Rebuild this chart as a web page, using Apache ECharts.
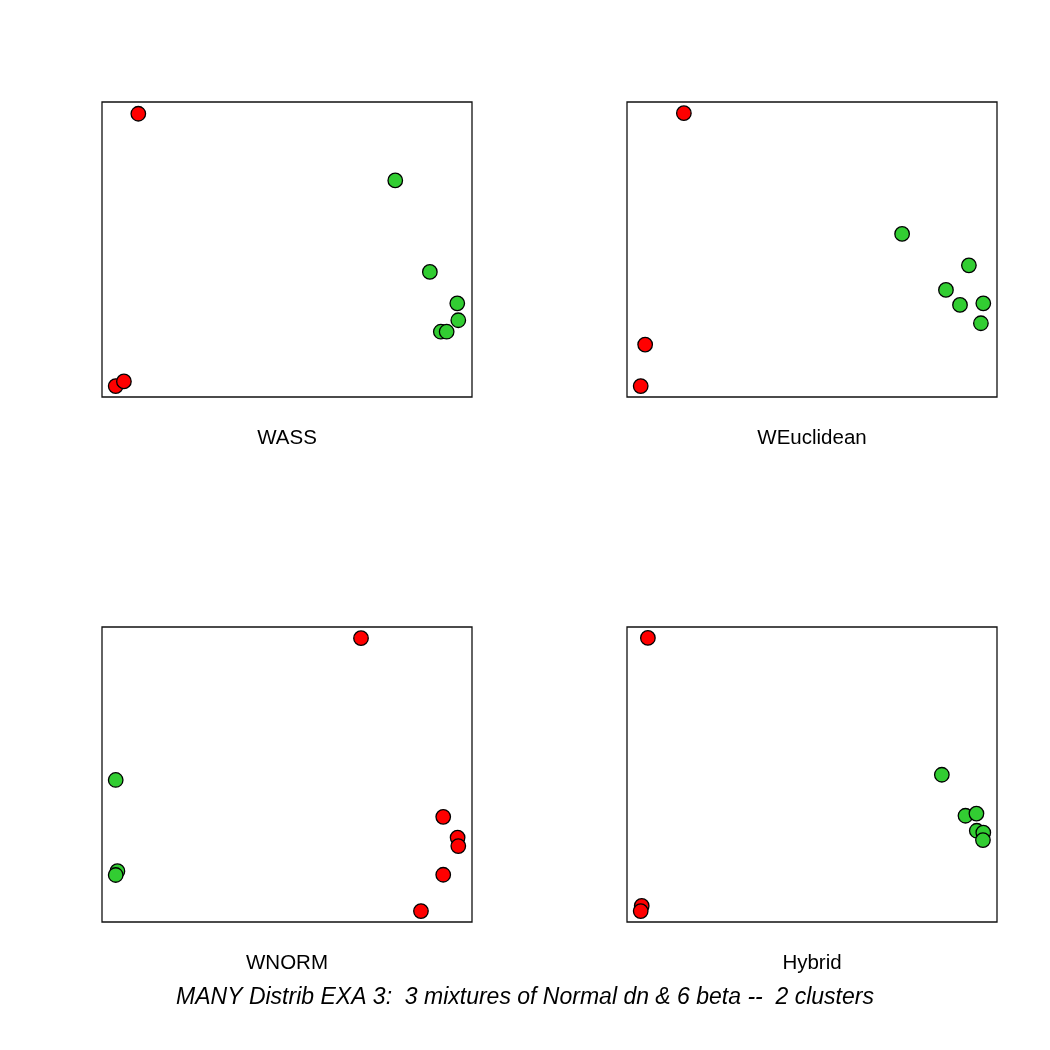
<!DOCTYPE html>
<html>
<head>
<meta charset="UTF-8">
<title>MANY Distrib EXA 3</title>
<script src="https://cdn.jsdelivr.net/npm/echarts@6/dist/echarts.min.js"></script>
<style>
  html, body { margin: 0; padding: 0; background: #fff; }
  #main { width: 1050px; height: 1050px; }
</style>
</head>
<body>
<div id="main"></div>
<script>
// panel names (shown under each box)
const panelNames = ['WASS', 'WEuclidean', 'WNORM', 'Hybrid'];
const mainTitle = 'MANY Distrib EXA 3:  3 mixtures of Normal dn & 6 beta --  2 clusters';

// points per panel, [x, y] (unitless, 0..100)
const wassRed = [[6.6, 99.7], [0, 0], [2.4, 1.7]];
const wassGreen = [[81.6, 75.3], [91.7, 41.8], [99.7, 30.3], [100, 24.1], [94.9, 19.9], [96.6, 19.9]];

const weucRed = [[12.6, 99.9], [1.3, 15.2], [0, 0]];
const weucGreen = [[76.3, 55.7], [95.8, 44.2], [89.1, 35.2], [93.2, 29.7], [100, 30.3], [99.3, 23.0]];

const wnormRed = [[71.6, 99.9], [95.6, 34.5], [99.8, 26.9], [100, 23.8], [95.6, 13.3], [89.1, 0]];
const wnormGreen = [[0, 48.0], [0.5, 14.6], [0, 13.2]];

const hybridRed = [[2.1, 100], [0.3, 1.9], [0, 0]];
const hybridGreen = [[87.9, 49.9], [94.8, 34.9], [98.0, 35.7], [98.1, 29.4], [100, 28.7], [99.9, 26.0]];

const panelRed = [wassRed, weucRed, wnormRed, hybridRed];
const panelGreen = [wassGreen, weucGreen, wnormGreen, hybridGreen];

const RED_COL = '#ff0000';
const GREEN_COL = '#32cd32';
const FONT = 'Liberation Sans, Arial, sans-serif';

// grid boxes
const boxes = [
  { left: 102, top: 102 },
  { left: 627, top: 102 },
  { left: 102, top: 627 },
  { left: 627, top: 627 }
];
const boxW = 370, boxH = 295;

const grids = [], xAxes = [], yAxes = [], series = [];
boxes.forEach((b, i) => {
  grids.push({
    left: b.left, top: b.top, width: boxW, height: boxH,
    show: true, borderColor: '#111', borderWidth: 1.3, backgroundColor: 'transparent'
  });
  xAxes.push({
    gridIndex: i, type: 'value', min: -4, max: 104,
    name: panelNames[i], nameLocation: 'middle', nameGap: 31,
    nameTextStyle: { fontFamily: FONT, fontSize: 20.5, color: '#000' },
    axisLine: { show: false }, axisTick: { show: false }, axisLabel: { show: false }, splitLine: { show: false }
  });
  yAxes.push({
    gridIndex: i, type: 'value', min: -4, max: 104,
    axisLine: { show: false }, axisTick: { show: false }, axisLabel: { show: false }, splitLine: { show: false }
  });
  [[panelRed[i], RED_COL], [panelGreen[i], GREEN_COL]].forEach(([pts, col]) => {
    series.push({
      type: 'scatter', xAxisIndex: i, yAxisIndex: i,
      data: pts, symbol: 'circle', symbolSize: 14.5,
      itemStyle: { color: col, borderColor: '#000', borderWidth: 1.3, opacity: 1 },
      emphasis: { disabled: true }
    });
  });
});

const chart = echarts.init(document.getElementById('main'), null, { renderer: 'canvas' });
chart.setOption({
  animation: false,
  backgroundColor: '#fff',
  title: {
    text: mainTitle, left: 'center', top: 981,
    textStyle: { fontFamily: FONT, fontSize: 23, fontStyle: 'italic', fontWeight: 'normal', color: '#000' }
  },
  grid: grids,
  xAxis: xAxes,
  yAxis: yAxes,
  series: series
});
</script>
</body>
</html>
